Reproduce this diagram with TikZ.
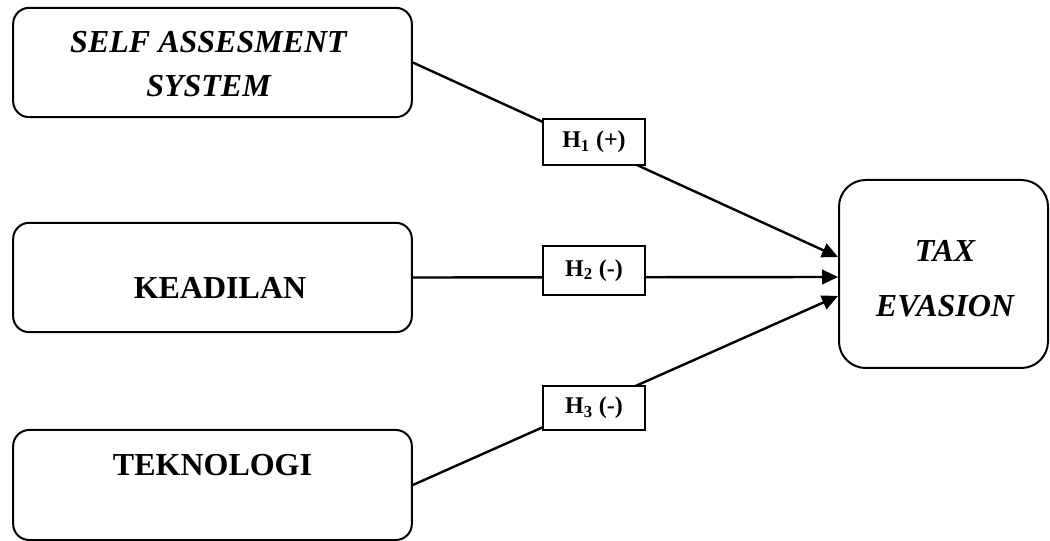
\documentclass[tikz,border=0pt]{standalone}
\usepackage{fontspec}
\setmainfont{Liberation Serif}
\usetikzlibrary{arrows.meta}

\tikzset{
  varbox/.style={draw, line width=1.5pt, rounded corners=12pt, minimum width=299pt, minimum height=82pt},
  vartext/.style={font=\fontsize{24}{33}\selectfont\bfseries, inner sep=0pt},
  varital/.style={font=\fontsize{24}{33}\selectfont\bfseries\itshape, align=center, inner sep=0pt},
  hypbox/.style={draw, line width=1.5pt, fill=white, minimum width=76.5pt, inner sep=0pt, font=\fontsize{18}{20}\selectfont\bfseries},
  link/.style={line width=1.8pt, -{Triangle[length=12pt,width=11pt]}}
}

\begin{document}
\begin{tikzpicture}[x=0.75pt, y=-0.75pt]
  \useasboundingbox (0,0) rectangle (1050,541);

  % variables
  \node[varbox]                         (sas) at (212.5,62.5) {};
  \node[varbox]                         (kea) at (212.5,277.5) {};
  \node[varbox, minimum height=82.5pt]  (tek) at (212.5,485) {};
  \node[varbox, rounded corners=20pt, minimum width=156.75pt, minimum height=141pt] (tax) at (943.5,274) {};

  \node[varital]              (sastext) at (208.5,64.5) {SELF ASSESMENT\\SYSTEM};
  \node[vartext, anchor=base] (keatext) at (220,299)    {KEADILAN};
  \node[vartext, anchor=base] (tektext) at (212.5,475)  {TEKNOLOGI};
  \node[varital, font=\fontsize{24}{41}\selectfont\bfseries\itshape] (taxtext) at (945,279) {TAX\\EVASION};

  % hypotheses
  \draw[link] (sas.east) -- ([yshift=12.75pt]tax.west);
  \draw[link] (kea.east) -- ([yshift=-2.25pt]tax.west);
  \draw[link] (tek.east) -- ([yshift=-16.5pt]tax.west);

  \node[hypbox, minimum height=34.5pt]  (h1) at (594,142)   {H\textsubscript{1} (+)};
  \node[hypbox, minimum height=36.75pt] (h2) at (594,270.5) {H\textsubscript{2} (-)};
  \node[hypbox, minimum height=33pt]    (h3) at (594,408)   {H\textsubscript{3} (-)};
\end{tikzpicture}
\end{document}
